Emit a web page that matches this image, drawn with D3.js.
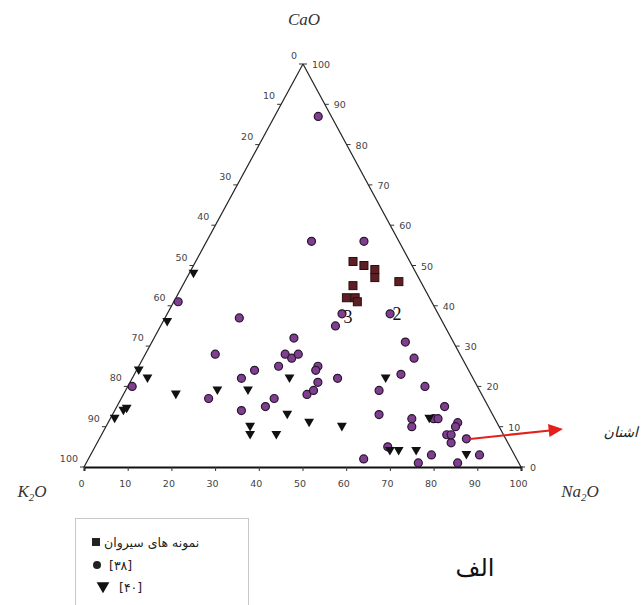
<!DOCTYPE html>
<html>
<head>
<meta charset="utf-8">
<script src="https://cdn.jsdelivr.net/npm/d3@7"></script>
<style>
  body { margin: 0; background: #fff; }
  svg { display: block; }
</style>
</head>
<body>
<div id="chart"></div>
<script>
// values as [CaO, Na2O, K2O]
const sirvan = [
  [51, 36, 13], [50, 39, 11], [49, 42, 9], [47, 43, 10], [46, 49, 5],
  [45, 39, 16], [42, 39, 19], [42, 41, 17], [41, 42, 17]
];

const ref38 = [
  [87, 10, 3], [56, 24, 20], [56, 36, 8], [38, 40, 22], [35, 40, 25],
  [38, 51, 11], [32, 32, 36], [28, 32, 40], [27, 34, 39], [25, 32, 43],
  [28, 35, 37], [25, 41, 34], [24, 41, 35], [21, 43, 36], [22, 47, 31],
  [18, 42, 40], [19, 43, 38], [31, 58, 11], [27, 62, 11], [23, 61, 16],
  [19, 58, 23], [20, 68, 12], [15, 75, 10], [13, 61, 26], [12, 69, 19],
  [10, 70, 20], [12, 74, 14], [12, 75, 13], [11, 80, 9], [10, 80, 10],
  [8, 79, 13], [8, 80, 12], [6, 81, 13], [7, 84, 9], [5, 67, 28],
  [2, 63, 35], [1, 76, 23], [3, 78, 19], [1, 85, 14], [3, 89, 8],
  [41, 1, 58], [37, 17, 46], [20, 1, 79], [28, 16, 56], [24, 27, 49],
  [22, 25, 53], [17, 20, 63], [14, 29, 57], [15, 34, 51], [17, 35, 48]
];

const ref40 = [
  [36, 1, 63], [48, 1, 51], [24, 0.5, 75.5], [22, 3.5, 74.5], [18, 12, 70],
  [19, 21, 60], [19, 28, 53], [14, 2, 84], [14.5, 2.5, 83], [12, 1, 87],
  [10, 33, 57], [8, 34, 58], [8, 40, 52], [13, 40, 47], [22, 36, 42],
  [11, 46, 43], [10, 54, 36], [22, 58, 20], [12, 73, 15], [4, 68, 28],
  [4, 70, 26], [4, 74, 22], [3, 86, 11]
];

const ticks = d3.range(0, 101, 10);
const legendLabels = ["نمونه های سیروان", "[۳۸]", "[۴۰]"];

const W = 644, H = 605;
const apex = {x: 303, y: 64}, cornerK = {x: 84, y: 467}, cornerNa = {x: 521, y: 467};

const svg = d3.select("#chart").append("svg")
  .attr("width", W)
  .attr("height", H);

// scales: Na2O along the base, CaO up the height, CaO also shifts x
const xNa = d3.scaleLinear().domain([0, 100]).range([cornerK.x, cornerNa.x]);
const xCa = d3.scaleLinear().domain([0, 100]).range([0, apex.x - cornerK.x]);
const yCa = d3.scaleLinear().domain([0, 100]).range([cornerK.y, apex.y]);

function px(d) { return xNa(d[1]) + xCa(d[0]); }
function py(d) { return yCa(d[0]); }

// triangle sides
svg.append("line")
  .attr("x1", cornerK.x).attr("y1", cornerK.y).attr("x2", apex.x).attr("y2", apex.y)
  .attr("stroke", "#222").attr("stroke-width", 1.2);
svg.append("line")
  .attr("x1", cornerNa.x).attr("y1", cornerNa.y).attr("x2", apex.x).attr("y2", apex.y)
  .attr("stroke", "#222").attr("stroke-width", 1.2);

// bottom axis (Na2O)
const bottom = svg.append("g")
  .attr("transform", `translate(0,${cornerK.y})`)
  .call(d3.axisBottom(xNa).tickValues(ticks).tickSize(4).tickPadding(9).tickFormat(d3.format("d")));
bottom.select(".domain").attr("stroke", "#111").attr("stroke-width", 2);
bottom.selectAll(".tick line").attr("stroke", "#333");
bottom.selectAll("text")
  .attr("font-family", "DejaVu Sans").attr("font-size", 9.5).attr("fill", "#444")
  .attr("dx", -3);

// left axis (K2O, 0 at apex)
const lg = svg.append("g");
lg.selectAll("line").data(ticks).join("line")
  .attr("x1", k => px([100 - k, 0])).attr("y1", k => py([100 - k, 0]))
  .attr("x2", k => px([100 - k, 0]) - 4).attr("y2", k => py([100 - k, 0]))
  .attr("stroke", "#333");
lg.selectAll("text").data(ticks).join("text")
  .attr("x", k => px([100 - k, 0]) - 6)
  .attr("y", k => py([100 - k, 0]) - 5)
  .attr("text-anchor", "end")
  .attr("font-family", "DejaVu Sans").attr("font-size", 9.5).attr("fill", "#444")
  .text(k => k);

// right axis (CaO, 100 at apex)
const rg = svg.append("g");
rg.selectAll("line").data(ticks).join("line")
  .attr("x1", c => px([c, 100 - c])).attr("y1", c => py([c, 100 - c]))
  .attr("x2", c => px([c, 100 - c]) + 4).attr("y2", c => py([c, 100 - c]))
  .attr("stroke", "#333");
rg.selectAll("text").data(ticks).join("text")
  .attr("x", c => px([c, 100 - c]) + 9)
  .attr("y", c => py([c, 100 - c]) + 4)
  .attr("font-family", "DejaVu Sans").attr("font-size", 9.5).attr("fill", "#444")
  .text(c => c);

// corner labels
function oxide(x, y, a, b) {
  const t = svg.append("text")
    .attr("x", x).attr("y", y)
    .attr("text-anchor", "middle")
    .attr("font-family", "Liberation Serif").attr("font-style", "italic")
    .attr("font-size", 17).attr("fill", "#333");
  t.append("tspan").text(a);
  if (b) {
    t.append("tspan").attr("font-size", 11).attr("dy", 4).text("2");
    t.append("tspan").attr("dy", -4).text(b);
  }
}
oxide(304, 25, "CaO");
oxide(32, 497, "K", "O");
oxide(580, 497, "Na", "O");

// markers
svg.append("g").selectAll("circle").data(ref38).join("circle")
  .attr("cx", px).attr("cy", py).attr("r", 4)
  .attr("fill", "#7e3f8e").attr("stroke", "#2a1530").attr("stroke-width", 1.2);

svg.append("g").selectAll("rect").data(sirvan).join("rect")
  .attr("x", d => px(d) - 4).attr("y", d => py(d) - 4)
  .attr("width", 8).attr("height", 8)
  .attr("fill", "#5e1f24").attr("stroke", "#2a0c10").attr("stroke-width", 1);

const tri = d3.symbol().type(d3.symbolTriangle).size(42);
svg.append("g").selectAll("path").data(ref40).join("path")
  .attr("d", tri)
  .attr("transform", d => `translate(${px(d)},${py(d) - 1}) rotate(180)`)
  .attr("fill", "#111");

// point numbers
svg.append("text").attr("x", 348).attr("y", 323).attr("text-anchor", "middle")
  .attr("font-family", "Liberation Serif").attr("font-size", 18).attr("fill", "#111").text("3");
svg.append("text").attr("x", 397).attr("y", 320).attr("text-anchor", "middle")
  .attr("font-family", "Liberation Serif").attr("font-size", 18).attr("fill", "#111").text("2");

// arrow
svg.append("line")
  .attr("x1", 470).attr("y1", 439).attr("x2", 550).attr("y2", 430.5)
  .attr("stroke", "#e3201b").attr("stroke-width", 2.2);
svg.append("path")
  .attr("d", "M563,429 L548,424 L549.5,437 Z")
  .attr("fill", "#e3201b");
svg.append("text").attr("x", 638).attr("y", 437).attr("text-anchor", "end")
  .attr("font-family", "DejaVu Sans").attr("font-style", "italic")
  .attr("font-size", 14).attr("fill", "#222").text("اشنان");

svg.append("text").attr("x", 475).attr("y", 576).attr("text-anchor", "middle")
  .attr("font-family", "DejaVu Sans").attr("font-size", 24).attr("fill", "#111").text("الف");

// legend
const leg = svg.append("g");
leg.append("rect").attr("x", 75.5).attr("y", 518.5).attr("width", 173).attr("height", 100)
  .attr("fill", "#fff").attr("stroke", "#c8c8c8");
leg.append("rect").attr("x", 92).attr("y", 538).attr("width", 8).attr("height", 8).attr("fill", "#222");
leg.append("circle").attr("cx", 97).attr("cy", 565).attr("r", 4).attr("fill", "#222");
leg.append("path").attr("d", d3.symbol().type(d3.symbolTriangle).size(70))
  .attr("transform", "translate(103,586) rotate(180)").attr("fill", "#111");
leg.selectAll("text.lab").data(legendLabels).join("text")
  .attr("class", "lab")
  .attr("x", (d, i) => [104, 109, 119][i])
  .attr("y", (d, i) => [547, 570, 592][i])
  .attr("font-family", "DejaVu Sans").attr("font-size", 12.5).attr("fill", "#222")
  .attr("direction", "ltr")
  .text(d => d);
</script>
</body>
</html>
